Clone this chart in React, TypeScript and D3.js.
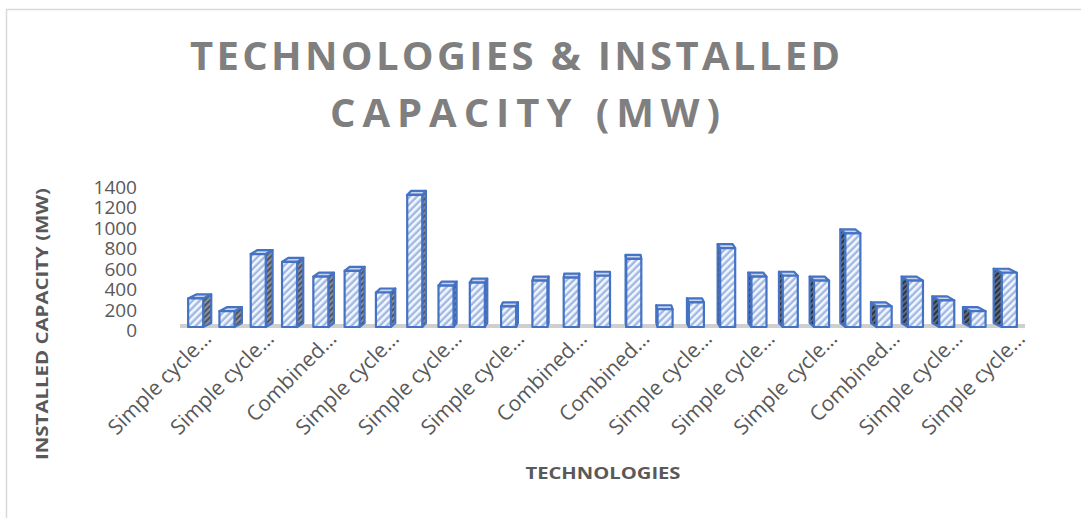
import * as d3 from 'd3';

// values (MW), one per column, left to right
const capacity = [
  280, 150, 730, 650, 500, 560, 340, 1330, 410, 440, 200, 460, 490, 510,
  680, 170, 240, 790, 500, 510, 460, 940, 200, 460, 260, 150, 540,
];

// only every other category is labelled on the axis
const techLabels = [
  'Simple cycle…', 'Simple cycle…', 'Combined…', 'Simple cycle…',
  'Simple cycle…', 'Simple cycle…', 'Combined…', 'Combined…',
  'Simple cycle…', 'Simple cycle…', 'Simple cycle…', 'Combined…',
  'Simple cycle…', 'Simple cycle…',
];

const yTicks = [0, 200, 400, 600, 800, 1000, 1200, 1400];

const width = 1081;
const height = 518;
const floorY = 326;
const vanishX = 600;
const depthY = 4;
const font = "'Open Sans', 'DejaVu Sans', sans-serif";
const blue = '#4472c4';

export default function App() {
  const x = d3
    .scaleBand<number>()
    .domain(d3.range(capacity.length))
    .range([180, 1025])
    .paddingInner(0.52)
    .paddingOuter(0.26);

  const y = d3.scaleLinear().domain([0, 1400]).range([floorY, 188]);
  // tick labels sit on the back wall, slightly lower
  const yLabel = d3.scaleLinear().domain([0, 1400]).range([330, 187]);

  const bw = x.bandwidth();

  return (
    <svg
      width={width}
      height={height}
      style={{ position: 'absolute', left: 0, top: 0 }}
      fontFamily={font}
    >
      <defs>
        <pattern id="front" patternUnits="userSpaceOnUse" width={5} height={5} patternTransform="rotate(45)">
          <rect width={5} height={5} fill="#9fb8e4" />
          <rect width={2.6} height={5} fill="#f4f7fd" />
        </pattern>
        <pattern id="sideR" patternUnits="userSpaceOnUse" width={4} height={4} patternTransform="rotate(45)">
          <rect width={4} height={4} fill="#8c9099" />
          <rect width={1.8} height={4} fill="#4a4e58" />
        </pattern>
        <pattern id="sideL" patternUnits="userSpaceOnUse" width={4} height={4} patternTransform="rotate(45)">
          <rect width={4} height={4} fill="#2e3440" />
          <rect width={1.6} height={4} fill="#6c7688" />
        </pattern>
      </defs>

      <rect x={0} y={0} width={width} height={height} fill="#fff" />
      <rect x={6.5} y={9.5} width={width + 20} height={height + 20} fill="none" stroke="#d9d9d9" strokeWidth={1.5} />

      <text x={190} y={70} fontSize={40} fontWeight={700} fill="#7f7f7f" textLength={650} lengthAdjust="spacing">
        TECHNOLOGIES &amp; INSTALLED
      </text>
      <text x={330} y={127} fontSize={40} fontWeight={700} fill="#7f7f7f" textLength={390} lengthAdjust="spacing">
        CAPACITY (MW)
      </text>

      <text
        transform={`translate(42,324) rotate(-90)`}
        textAnchor="middle"
        dominantBaseline="central"
        fontSize={16}
        fontWeight={700}
        fill="#595959"
        textLength={272}
        lengthAdjust="spacingAndGlyphs"
      >
        INSTALLED CAPACITY (MW)
      </text>

      <text x={603} y={479} textAnchor="middle" fontSize={16} fontWeight={700} fill="#595959" textLength={155} lengthAdjust="spacingAndGlyphs">
        TECHNOLOGIES
      </text>

      {yTicks.map((t) => (
        <text key={t} x={137} y={yLabel(t)} textAnchor="end" dominantBaseline="central" fontSize={19} fill="#595959">
          {t}
        </text>
      ))}

      {/* floor */}
      <rect x={180} y={floorY - 2} width={845} height={4} fill="#cfcfcf" />

      {capacity.map((v, i) => {
        const cx = (x(i) ?? 0) + bw / 2;
        const l = cx - bw / 2;
        const r = cx + bw / 2;
        const top = y(v);
        const base = floorY + 1;
        const dx = (vanishX - cx) * 0.02;
        const edge = dx >= 0 ? r : l;
        const side = [
          [edge, top],
          [edge + dx, top - depthY],
          [edge + dx, base - depthY],
          [edge, base],
        ];
        const lid = [
          [l, top],
          [r, top],
          [r + dx, top - depthY],
          [l + dx, top - depthY],
        ];
        const pts = (p: number[][]) => p.map((q) => q.join(',')).join(' ');
        return (
          <g key={i} stroke={blue} strokeWidth={2.2} strokeLinejoin="round">
            <polygon points={pts(side)} fill={dx >= 0 ? 'url(#sideR)' : 'url(#sideL)'} />
            <polygon points={pts(lid)} fill="#c7d3ea" />
            <rect x={l} y={top} width={bw} height={base - top} fill="url(#front)" />
          </g>
        );
      })}

      {techLabels.map((label, j) => {
        const cx = (x(j * 2) ?? 0) + bw / 2;
        return (
          <text
            key={j}
            transform={`translate(${cx + 17},340) rotate(-45)`}
            textAnchor="end"
            fontSize={21}
            fill="#595959"
          >
            {label}
          </text>
        );
      })}
    </svg>
  );
}
